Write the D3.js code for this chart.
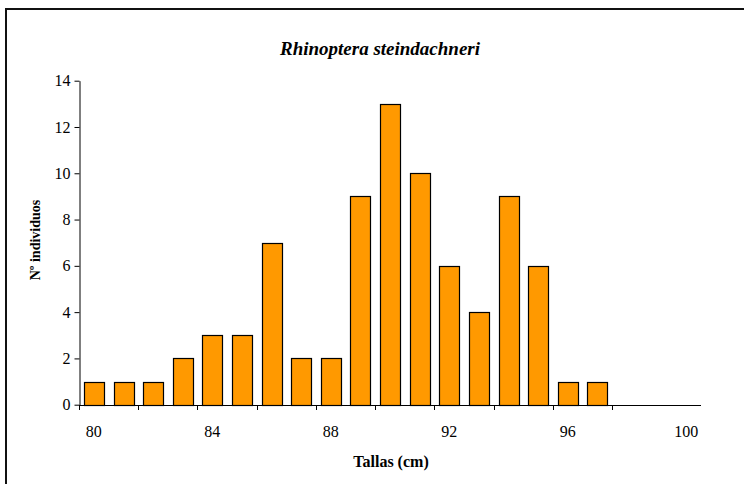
<!DOCTYPE html>
<html><head><meta charset="utf-8">
<script src="https://cdn.jsdelivr.net/npm/d3@7"></script>
<style>body{margin:0;background:#fff}svg{display:block}</style>
</head><body><svg id="c" width="744" height="484"></svg>
<script>
const categories = [80,81,82,83,84,85,86,87,88,89,90,91,92,93,94,95,96,97,98,99,100];
const counts =     [1, 1, 1, 2, 3, 3, 7, 2, 2, 9, 13,10,6, 4, 9, 6, 1, 1, 0, 0, 0];
const yTicks = [0,2,4,6,8,10,12,14];
const xLabels = [80,84,88,92,96,100];
const title = "Rhinoptera steindachneri";
const xTitle = "Tallas (cm)";
const yTitle = "Nº individuos";
const FONT = "'Liberation Serif', 'Times New Roman', Times, 'DejaVu Serif', serif";

const svg = d3.select("#c").attr("font-family", FONT);
svg.append("rect").attr("x",6).attr("y",9).attr("width",760).attr("height",500)
  .attr("fill","none").attr("stroke","#111").attr("stroke-width",2);

const x = d3.scaleBand().domain(categories).range([79,701]).paddingInner(0.33).paddingOuter(0.165);
const xb = d3.scaleBand().domain(categories).range([79,701]);
const y = d3.scaleLinear().domain([0,14]).range([404.7,80.7]);

svg.append("g").selectAll("rect").data(categories.map((c,i)=>({c,v:counts[i]})).filter(d=>d.v>0))
  .join("rect")
  .attr("x",d=>Math.round(x(d.c))+0.5).attr("width",Math.round(x.bandwidth()))
  .attr("y",d=>Math.round(y(d.v))+0.5).attr("height",d=>Math.round(y(0))-Math.round(y(d.v)))
  .attr("fill","#FF9900").attr("stroke","#000").attr("stroke-width",1.2);

// y axis
const ya = d3.axisLeft(y).tickValues(yTicks).tickSize(5).tickSizeOuter(0).tickPadding(4);
const gy = svg.append("g").attr("transform","translate(79.5,0)").call(ya)
  .attr("font-family", FONT).attr("font-size",16);
gy.selectAll("text").attr("fill","#000");
gy.selectAll("line,path").attr("stroke","#000");

// x axis line and ticks
const gx = svg.append("g");
gx.append("line").attr("x1",79).attr("x2",701).attr("y1",405.5).attr("y2",405.5).attr("stroke","#000");
const tickCats = categories.filter((c,i)=>i%2===0 && i<20);
gx.selectAll("line.t").data(tickCats).join("line").attr("class","t")
  .attr("x1",d=>Math.round(xb(d))+0.5).attr("x2",d=>Math.round(xb(d))+0.5)
  .attr("y1",405).attr("y2",410).attr("stroke","#000");
gx.selectAll("text").data(xLabels).join("text")
  .attr("x",d=>xb(d)+xb.bandwidth()/2).attr("y",437)
  .attr("text-anchor","middle").attr("font-size",16).text(d=>d);

svg.append("text").attr("x",380).attr("y",55).attr("text-anchor","middle")
  .attr("font-size",19).attr("font-weight","bold").attr("font-style","italic").text(title);
svg.append("text").attr("x",391).attr("y",467).attr("text-anchor","middle")
  .attr("font-size",16).attr("font-weight","bold").text(xTitle);
svg.append("text").attr("transform","translate(40,240) rotate(-90)").attr("text-anchor","middle")
  .attr("font-size",14).attr("font-weight","bold").text(yTitle);
</script></body></html>
